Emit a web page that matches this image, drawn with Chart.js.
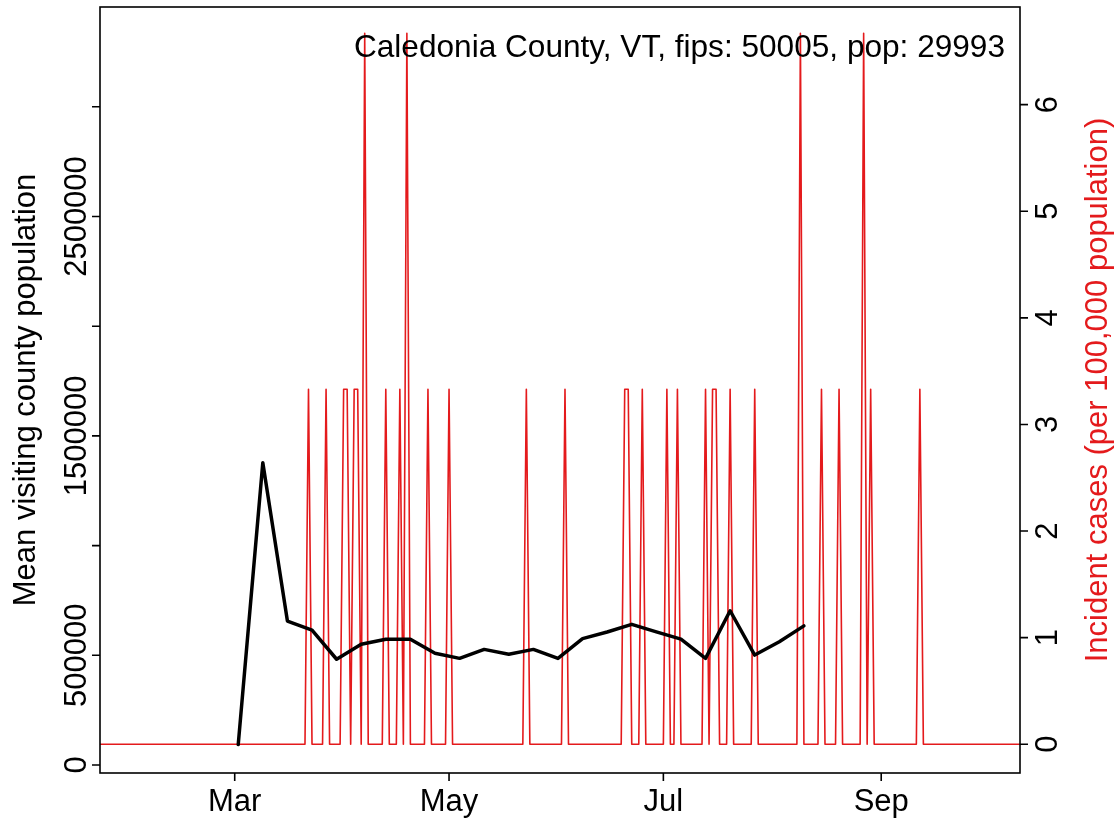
<!DOCTYPE html>
<html><head><meta charset="utf-8">
<script src="https://cdn.jsdelivr.net/npm/chart.js@4"></script>
<style>html,body{margin:0;padding:0;background:#fff;overflow:hidden}canvas{display:block}</style>
</head><body>
<canvas id="c" width="1119" height="822"></canvas>
<script>
// ---------- data ----------
const chartTitle = 'Caledonia County, VT, fips: 50005, pop: 29993';
const leftAxisTitle = 'Mean visiting county population';
const rightAxisTitle = 'Incident cases (per 100,000 population)';

const mobilityDates = ['2020-03-02','2020-03-09','2020-03-16','2020-03-23','2020-03-30','2020-04-06',
  '2020-04-13','2020-04-20','2020-04-27','2020-05-04','2020-05-11','2020-05-18','2020-05-25',
  '2020-06-01','2020-06-08','2020-06-15','2020-06-22','2020-06-29','2020-07-06','2020-07-13',
  '2020-07-20','2020-07-27','2020-08-03','2020-08-10'];
const mobilityValues = [93000,1378000,656000,615000,482000,550000,573000,573000,509000,486000,
  527000,505000,527000,486000,576000,606000,641000,607000,574000,486000,703000,501000,562000,634000];

const caseSeriesStart = '2020-01-22';
const caseSeriesEnd = '2020-10-11';
const caseDates = ['2020-03-22','2020-03-27','2020-04-01','2020-04-02','2020-04-04','2020-04-05',
  '2020-04-07','2020-04-13','2020-04-17','2020-04-19','2020-04-25','2020-05-01','2020-05-23',
  '2020-06-03','2020-06-20','2020-06-21','2020-06-25','2020-07-02','2020-07-05','2020-07-13',
  '2020-07-15','2020-07-16','2020-07-20','2020-07-27','2020-08-09','2020-08-15','2020-08-20',
  '2020-08-27','2020-08-29','2020-09-12'];
const caseValues = [3.33,3.33,3.33,3.33,3.33,3.33,6.67,3.33,3.33,6.67,3.33,3.33,3.33,
  3.33,3.33,3.33,3.33,3.33,3.33,3.33,3.33,3.33,3.33,3.33,6.67,3.33,3.33,6.67,3.33,3.33];

const xTickDates = ['2020-03-01','2020-05-01','2020-07-01','2020-09-01'];
const xTickLabels = ['Mar','May','Jul','Sep'];
const leftTicks = [0,500000,1000000,1500000,2000000,2500000,3000000];
const leftTickLabels = ['0','500000','','1500000','','2500000',''];
const rightTicks = [0,1,2,3,4,5,6];
const rightTickLabels = ['0','1','2','3','4','5','6'];

// ---------- helpers ----------
const DAY = 86400000, ORIGIN = Date.UTC(2020,0,1);
function toDay(s){ const p = s.split('-').map(Number); return (Date.UTC(p[0],p[1]-1,p[2]) - ORIGIN)/DAY; }

const caseMap = new Map(caseDates.map((d,i)=>[toDay(d), caseValues[i]]));
const casePoints = [];
for (let d = toDay(caseSeriesStart); d <= toDay(caseSeriesEnd); d++) {
  casePoints.push({x:d, y: caseMap.has(d) ? caseMap.get(d) : 0});
}
const mobilityPoints = mobilityDates.map((d,i)=>({x:toDay(d), y:mobilityValues[i]}));

const RED = '#E41A1C';
const FONT = '"Liberation Sans", Arial, Helvetica, sans-serif';
const FS = 31;
const LW = 1.6, TL = 8;

const rbase = {
  id:'rbase',
  afterDraw(chart){
    const {ctx, chartArea:a, scales} = chart;
    ctx.save();
    ctx.strokeStyle = '#000'; ctx.lineWidth = LW; ctx.lineCap = 'butt';
    ctx.strokeRect(a.left, a.top, a.right-a.left, a.bottom-a.top);
    ctx.beginPath();
    xTickDates.forEach(d=>{ const p = scales.x.getPixelForValue(toDay(d)); ctx.moveTo(p,a.bottom); ctx.lineTo(p,a.bottom+TL); });
    leftTicks.forEach(v=>{ const p = scales.y.getPixelForValue(v); ctx.moveTo(a.left,p); ctx.lineTo(a.left-TL,p); });
    rightTicks.forEach(v=>{ const p = scales.y1.getPixelForValue(v); ctx.moveTo(a.right,p); ctx.lineTo(a.right+TL,p); });
    ctx.stroke();

    ctx.fillStyle = '#000';
    ctx.font = FS + 'px ' + FONT;
    ctx.textAlign = 'center'; ctx.textBaseline = 'alphabetic';
    xTickDates.forEach((d,i)=>{ ctx.fillText(xTickLabels[i], scales.x.getPixelForValue(toDay(d)), 811); });

    function vtext(t, x, y){ ctx.save(); ctx.translate(x,y); ctx.rotate(-Math.PI/2); ctx.fillText(t,0,0); ctx.restore(); }
    leftTicks.forEach((v,i)=>{ if (leftTickLabels[i]) vtext(leftTickLabels[i], 86, scales.y.getPixelForValue(v)); });
    rightTicks.forEach((v,i)=>{ vtext(rightTickLabels[i], 1057, scales.y1.getPixelForValue(v)); });
    const cy = (a.top + a.bottom)/2;
    vtext(leftAxisTitle, 35, cy);
    ctx.fillStyle = RED;
    vtext(rightAxisTitle, 1107, cy);

    ctx.fillStyle = '#000';
    ctx.font = '31.6px ' + FONT;
    ctx.textAlign = 'right';
    ctx.fillText(chartTitle, 1005, 57);
    ctx.restore();
  }
};

new Chart(document.getElementById('c'), {
  type:'line',
  data:{ datasets:[
    { label:'Mean visiting county population', data: mobilityPoints, yAxisID:'y',
      borderColor:'#000', borderWidth:3.5, pointRadius:0, tension:0,
      borderCapStyle:'round', borderJoinStyle:'round', fill:false },
    { label:'Incident cases', data: casePoints, yAxisID:'y1',
      borderColor:RED, borderWidth:1.6, pointRadius:0, tension:0,
      borderJoinStyle:'round', fill:false }
  ]},
  options:{
    responsive:false, animation:false, devicePixelRatio:1,
    layout:{ padding:{ top:7, left:0, right:0, bottom:0 } },
    plugins:{ legend:{display:false}, tooltip:{enabled:false} },
    scales:{
      x:{ type:'linear', position:'bottom', min:21.66, max:283.5,
          grid:{display:false}, border:{display:false}, ticks:{display:false},
          afterFit(s){ s.height = 49; } },
      y:{ type:'linear', position:'left', min:-36460, max:3454900,
          grid:{display:false}, border:{display:false}, ticks:{display:false},
          afterFit(s){ s.width = 100; } },
      y1:{ type:'linear', position:'right', min:-0.270, max:6.916,
          grid:{display:false}, border:{display:false}, ticks:{display:false},
          afterFit(s){ s.width = 99; } }
    }
  },
  plugins:[rbase]
});
</script>
</body></html>
